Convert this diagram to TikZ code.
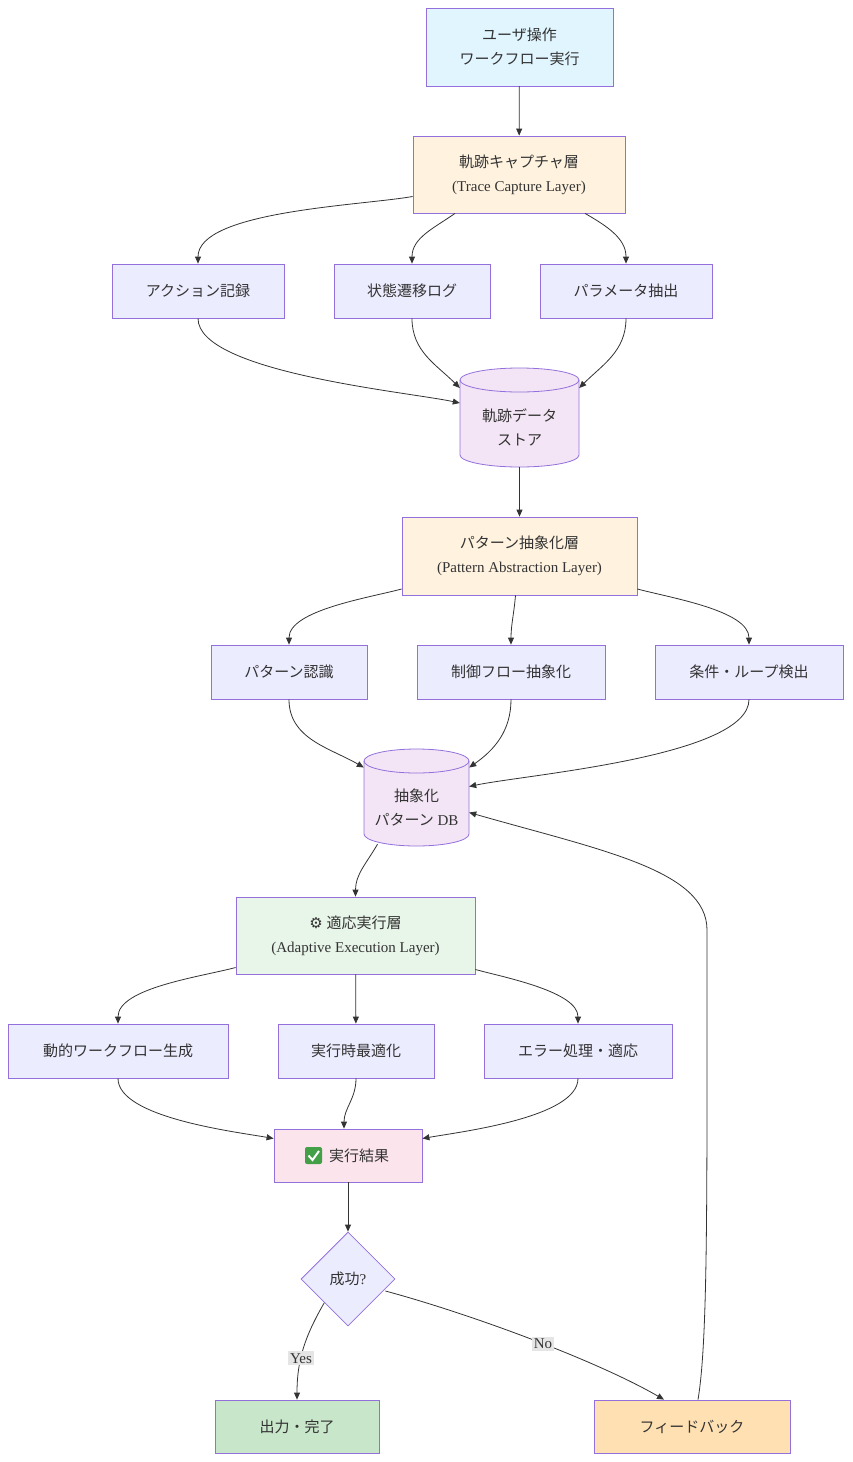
\documentclass[tikz,border=0pt]{standalone}
\usepackage{fontspec}
\setmainfont{Liberation Serif}
\newfontfamily\cjk{Noto Sans CJK JP}
\newfontfamily\emo{DejaVu Sans}
\usetikzlibrary{calc,arrows.meta,shapes.geometric}
\definecolor{strk}{HTML}{9370DB}
\definecolor{boxf}{HTML}{ECECFF}
\definecolor{bluef}{HTML}{E1F5FE}
\definecolor{creamf}{HTML}{FFF3E0}
\definecolor{purf}{HTML}{F3E5F5}
\definecolor{greenf}{HTML}{E8F5E9}
\definecolor{pinkf}{HTML}{FCE4EC}
\definecolor{outf}{HTML}{C8E6C9}
\definecolor{fbf}{HTML}{FFE0B2}
\definecolor{edge}{HTML}{333333}
\definecolor{chk}{HTML}{43A047}
\begin{document}
\begin{tikzpicture}[x=1pt,y=-1pt,
  every node/.style={font=\fontsize{15}{24}\selectfont, text=edge, align=center},
  box/.style={draw=strk, fill=boxf, line width=0.8pt, inner sep=0pt, minimum height=54pt},
  cyl/.style={draw=none, inner sep=0pt},
  arr/.style={draw=edge, line width=0.8pt, -{Triangle[length=7pt,width=6pt]}},
  lab/.style={fill=gray!20, inner sep=2pt, font=\fontsize{15}{18}\selectfont}]
\useasboundingbox (0,0) rectangle (852,1462);
% nodes
\node[box, fill=bluef, minimum width=187pt, minimum height=78pt] (user) at (519.5,47) {{\cjk ユーザ操作}\\{\cjk ワークフロー実行}};
\node[box, fill=creamf, minimum width=212pt, minimum height=77pt] (trace) at (519,174.5) {{\cjk 軌跡キャプチャ層}\\(Trace Capture Layer)};
\node[box, minimum width=172pt] (a1) at (198,291) {\cjk アクション記録};
\node[box, minimum width=156pt] (a2) at (412,291) {\cjk 状態遷移ログ};
\node[box, minimum width=172pt] (a3) at (626,291) {\cjk パラメータ抽出};
% store cylinder
\fill[purf, draw=strk, line width=0.8pt] (460,380) -- (460,455) arc[start angle=180,end angle=0,x radius=59.5,y radius=12] -- (579,380) arc[start angle=0,end angle=-180,x radius=59.5,y radius=12] -- cycle;
\draw[strk, line width=0.8pt] (460,380) arc[start angle=180,end angle=0,x radius=59.5,y radius=12];
\node[cyl, minimum width=119pt, minimum height=99pt] (store) at (519.5,417) {};
\node at (519.5,427) {{\cjk 軌跡データ}\\{\cjk ストア}};
\node[box, fill=creamf, minimum width=235pt, minimum height=78pt] (pat) at (519.5,556) {{\cjk パターン抽象化層}\\(Pattern Abstraction Layer)};
\node[box, minimum width=156pt] (b1) at (289,672) {\cjk パターン認識};
\node[box, minimum width=188pt] (b2) at (511,672) {\cjk 制御フロー抽象化};
\node[box, minimum width=188pt] (b3) at (749,672) {\cjk 条件・ループ検出};
% db cylinder
\fill[purf, draw=strk, line width=0.8pt] (364,761) -- (364,834) arc[start angle=180,end angle=0,x radius=52.5,y radius=12] -- (469,761) arc[start angle=0,end angle=-180,x radius=52.5,y radius=12] -- cycle;
\draw[strk, line width=0.8pt] (364,761) arc[start angle=180,end angle=0,x radius=52.5,y radius=12];
\node[cyl, minimum width=105pt, minimum height=97pt] (db) at (416.5,797.5) {};
\node at (416.5,807) {{\cjk 抽象化}\\{\cjk パターン} DB};
\node[box, fill=greenf, minimum width=239pt, minimum height=77pt] (ada) at (355.5,935.5) {{\emo ⚙} {\cjk 適応実行層}\\(Adaptive Execution Layer)};
\node[box, minimum width=220pt] (c1) at (118,1051) {\cjk 動的ワークフロー生成};
\node[box, minimum width=156pt] (c2) at (356,1051) {\cjk 実行時最適化};
\node[box, minimum width=188pt] (c3) at (578,1051) {\cjk エラー処理・適応};
\node[box, fill=pinkf, minimum width=148pt, minimum height=53pt] (res) at (348,1155.5) {\hspace{22pt}{\cjk 実行結果}};
\fill[chk, rounded corners=2pt] (305,1147) rectangle (322,1164);
\draw[white, line width=2pt] (308.5,1155.5) -- (312.5,1160) -- (319,1151);
\node[diamond, draw=strk, fill=boxf, line width=0.8pt, minimum width=94pt, minimum height=94pt, inner sep=0pt] (dec) at (348,1279) {{\cjk 成功}?};
\node[box, fill=outf, minimum width=164pt, minimum height=53pt] (out) at (297,1426.5) {{\cjk 出力・完了}};
\node[box, fill=fbf, minimum width=196pt, minimum height=53pt] (fb) at (692,1426.5) {{\cjk フィードバック}};
% edges
\draw[arr] (user) -- (trace);
\draw[arr] ($(trace.west)+(0,22)$) to[out=190,in=90,looseness=0.6] (a1.north);
\draw[arr] ($(trace.south)+(-64,0)$) to[out=215,in=90] (a2.north);
\draw[arr] ($(trace.south)+(66,0)$) to[out=-30,in=90] (a3.north);
\draw[arr] (a1.south) to[out=-90,in=168,looseness=0.5] ($(store.west)+(0,-14)$);
\draw[arr] (a2.south) to[out=-90,in=135] ($(store.west)+(0,-29)$);
\draw[arr] (a3.south) to[out=-90,in=45] ($(store.east)+(0,-29)$);
\draw[arr] (store) -- (pat);
\draw[arr] ($(pat.west)+(0,33)$) to[out=195,in=90,looseness=0.7] (b1.north);
\draw[arr] ($(pat.south)+(-4,0)$) to[out=-95,in=90] (b2.north);
\draw[arr] ($(pat.east)+(0,33)$) to[out=-15,in=90,looseness=0.7] (b3.north);
\draw[arr] (b1.south) to[out=-90,in=150] ($(db.west)+(0,-30)$);
\draw[arr] (b2.south) to[out=-90,in=35] ($(db.east)+(0,-30)$);
\draw[arr] (b3.south) to[out=-90,in=12,looseness=0.5] ($(db.east)+(0,-11)$);
\draw[arr] ($(db.south)+(-39,-2)$) to[out=-120,in=90] (ada.north);
\draw[arr] ($(ada.west)+(0,32)$) to[out=195,in=90,looseness=0.7] (c1.north);
\draw[arr] (ada) -- (c2);
\draw[arr] ($(ada.east)+(0,34)$) to[out=-15,in=90,looseness=0.7] (c3.north);
\draw[arr] (c1.south) to[out=-90,in=170,looseness=0.6] ($(res.west)+(0,-17)$);
\draw[arr] (c2.south) to[out=-90,in=90] ($(res.north)+(-4,0)$);
\draw[arr] (c3.south) to[out=-90,in=10,looseness=0.6] ($(res.east)+(0,-17)$);
\draw[arr] (res) -- (dec);
\draw[arr] (dec.225) to[out=-120,in=90] node[lab, pos=0.6] {Yes} (out.north);
\draw[arr] ($(dec.east)+(-10,12)$) to[out=-15,in=150,looseness=0.7] node[lab, pos=0.55] {No} ($(fb.north)+(-28,0)$);
\coordinate (up) at (707,930);
\draw[arr] ($(fb.north)+(6,0)$) .. controls (708,1340) and (707,1200) .. (up) .. controls (707,870) and (600,850) .. ($(db.east)+(0,15)$);
\end{tikzpicture}
\end{document}
